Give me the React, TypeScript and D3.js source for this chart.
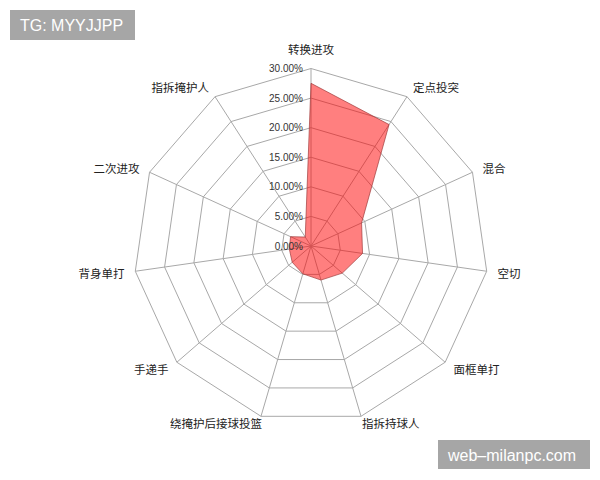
import React from 'react';
import * as d3 from 'd3';

const categories = ['转换进攻', '定点投突', '混合', '空切', '面框单打', '指拆持球人', '绕掩护后接球投篮', '手递手', '背身单打', '二次进攻', '指拆掩护人'];
const shares = [27.5, 24.4, 9.4, 8.8, 7.0, 6.0, 4.9, 4.2, 3.7, 3.8, 1.8];
const ticks = [0, 5, 10, 15, 20, 25, 30];

const App: React.FC = () => {
  const cx = 311;
  const cy = 246;
  const R = 177.5;
  const n = categories.length;

  const r = d3.scaleLinear().domain([0, 30]).range([0, R]);
  const angle = (i: number) => (i * 2 * Math.PI) / n;
  const pt = (i: number, v: number) => [Math.sin(angle(i)) * r(v), -Math.cos(angle(i)) * r(v)];

  const ring = d3.lineRadial<number>()
    .angle((_, i) => angle(i))
    .curve(d3.curveLinearClosed);

  const area = d3.lineRadial<number>()
    .angle((_, i) => angle(i))
    .radius(d => r(d))
    .curve(d3.curveLinearClosed);

  return (
    <svg width={600} height={480} style={{ position: 'absolute', left: 0, top: 0, background: '#fff' }}>
      <g transform={`translate(${cx},${cy})`}>
        {ticks.slice(1).map(t => (
          <path key={t} d={ring.radius(() => r(t))(categories.map(() => t)) ?? ''}
            fill="none" stroke="#a8a8a8" strokeWidth={1} />
        ))}
        {categories.map((c, i) => {
          const [x, y] = pt(i, 30);
          return <line key={c} x1={0} y1={0} x2={x} y2={y} stroke="#a8a8a8" strokeWidth={1} />;
        })}
        <path d={area(shares) ?? ''} fill="rgba(255,0,0,0.5)" stroke="rgba(160,60,60,0.7)" strokeWidth={1} />
        {ticks.map(t => (
          <text key={t} x={-8} y={-r(t) + 3.5} textAnchor="end" fontSize={10}
            fontFamily="'Liberation Sans', Arial, sans-serif" fill="#333">{t.toFixed(2)}%</text>
        ))}
        {categories.map((c, i) => {
          const a = angle(i);
          const s = Math.sin(a);
          const [x, y] = pt(i, 30);
          const off = 11;
          const anchor = Math.abs(s) < 0.1 ? 'middle' : s > 0 ? 'start' : 'end';
          let lx = x + s * off;
          let ly = y - Math.cos(a) * off;
          if (i === 0) ly = y - 20;
          if (i === 5) lx = x + 1;
          if (i === 6) lx = x + 1;
          return (
            <text key={c} x={lx} y={i === 5 || i === 6 ? ly - 4 : ly} textAnchor={anchor} dominantBaseline="central"
              fontSize={11.5} fontFamily="'Noto Sans CJK SC', sans-serif" fill="#222">{c}</text>
          );
        })}
      </g>
      <rect x={10} y={10} width={125} height={30} fill="#a6a6a6" />
      <text x={20} y={31} fontSize={16} fill="#fff" fontFamily="'Liberation Sans', Arial, sans-serif">TG: MYYJJPP</text>
      <rect x={438} y={440} width={152} height={29} fill="#a6a6a6" />
      <text x={448} y={460.5} fontSize={16} fill="#fff" fontFamily="'Liberation Sans', Arial, sans-serif">web–milanpc.com</text>
    </svg>
  );
};

export default App;
